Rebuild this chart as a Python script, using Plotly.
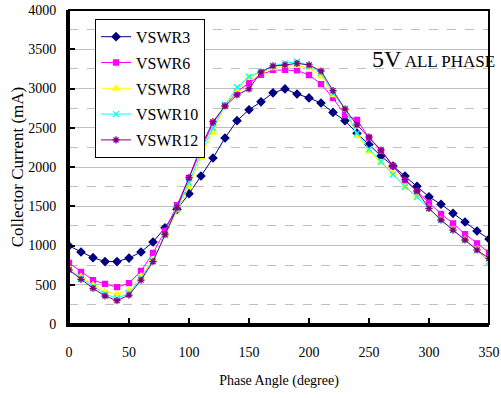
import plotly.graph_objects as go

angles = list(range(0, 360, 10))

vswr3 = [995, 917, 845, 795, 795, 840, 917, 1045, 1225, 1460, 1660, 1885, 2115, 2370, 2590, 2730, 2830, 2945,
         2995, 2930, 2880, 2815, 2695, 2590, 2430, 2285, 2140, 2013, 1885, 1755, 1620, 1525, 1410, 1300, 1185, 1083]
vswr6 = [777, 665, 560, 510, 470, 520, 675, 905, 1185, 1515, 1860, 2217, 2560, 2780, 2960, 3070, 3175, 3236,
         3236, 3230, 3172, 3057, 2879, 2662, 2600, 2375, 2205, 2013, 1830, 1690, 1545, 1401, 1282, 1146, 1028, 908]
vswr8 = [709, 603, 497, 412, 382, 433, 611, 815, 1130, 1450, 1750, 2120, 2437, 2777, 2985, 3140, 3210, 3260,
         3290, 3290, 3260, 3159, 2917, 2740, 2400, 2195, 2060, 1920, 1749, 1622, 1480, 1330, 1205, 1080, 955, 820]
vswr10 = [690, 585, 475, 380, 327, 391, 582, 810, 1130, 1460, 1800, 2166, 2497, 2790, 3015, 3150, 3215, 3290,
          3320, 3342, 3290, 3200, 2940, 2740, 2430, 2230, 2066, 1905, 1749, 1618, 1473, 1325, 1197, 1070, 940, 794]
vswr12 = [688, 569, 454, 357, 297, 369, 560, 794, 1140, 1480, 1864, 2259, 2577, 2777, 2917, 2994, 3210, 3287,
          3300, 3320, 3300, 3223, 2972, 2739, 2535, 2380, 2216, 2013, 1840, 1694, 1473, 1325, 1197, 1070, 943, 836]

series = [
    ("VSWR3", vswr3, "#000080", "diamond", 6),
    ("VSWR6", vswr6, "#FF00FF", "square", 5),
    ("VSWR8", vswr8, "#FFFF00", "triangle-up", 6),
    ("VSWR10", vswr10, "#00FFFF", "x-thin-open", 6),
    ("VSWR12", vswr12, "#800080", "asterisk-open", 6),
]

FONT = "Liberation Serif"

fig = go.Figure()
for name, vals, color, sym, size in series:
    fig.add_trace(go.Scatter(
        x=angles, y=vals, name=name, legendgroup=name, mode="lines+markers",
        line=dict(color=color, width=1),
        marker=dict(symbol=sym, size=size, color=color, line=dict(color=color, width=1.3)),
    ))

fig.update_layout(
    width=501, height=398,
    margin=dict(l=69, r=12, t=10, b=74, autoexpand=False),
    paper_bgcolor="white", plot_bgcolor="white",
    font=dict(family=FONT, size=14, color="black"),
    showlegend=True,
    legend=dict(x=0.062, y=0.972, xanchor="left", yanchor="top",
                bordercolor="black", borderwidth=1, bgcolor="white",
                font=dict(family=FONT, size=16, color="black"), itemwidth=30, tracegroupgap=2),
    xaxis=dict(range=[0, 350], dtick=50, tick0=0, showgrid=False, zeroline=False, automargin=False,
               showline=True, linecolor="black", linewidth=3, mirror=False,
               ticks="inside", ticklen=6, tickwidth=2, tickcolor="black", ticklabelstandoff=13,
               tickfont=dict(family=FONT, size=14),
               title=dict(text="Phase Angle (degree)", font=dict(family=FONT, size=14), standoff=17)),
    yaxis=dict(range=[0, 4000], dtick=500, tick0=0, showgrid=True, gridcolor="#c0c0c0", gridwidth=1,
               automargin=False,
               zeroline=False, showline=True, linecolor="black", linewidth=3, mirror=False,
               ticks="inside", ticklen=6, tickwidth=2, tickcolor="black", ticklabelstandoff=7,
               tickfont=dict(family=FONT, size=14),
               minor=dict(dtick=250, tick0=0, showgrid=True, gridcolor="#c0c0c0", griddash="dash", gridwidth=1),
               title=dict(text="Collector Current (mA)", font=dict(family=FONT, size=17), standoff=1)),
    annotations=[dict(x=1.02, y=0.796, xref="paper", yref="paper", xanchor="right", yanchor="bottom",
                      showarrow=False,
                      text="<span style='font-size:24px'>5V</span> ALL PHASE",
                      font=dict(family=FONT, size=17, color="black"))],
    shapes=[dict(type="rect", xref="paper", yref="paper", x0=0, y0=0, x1=1, y1=1,
                 line=dict(color="black", width=2), layer="above")],
)

fig.write_html("out.html")
